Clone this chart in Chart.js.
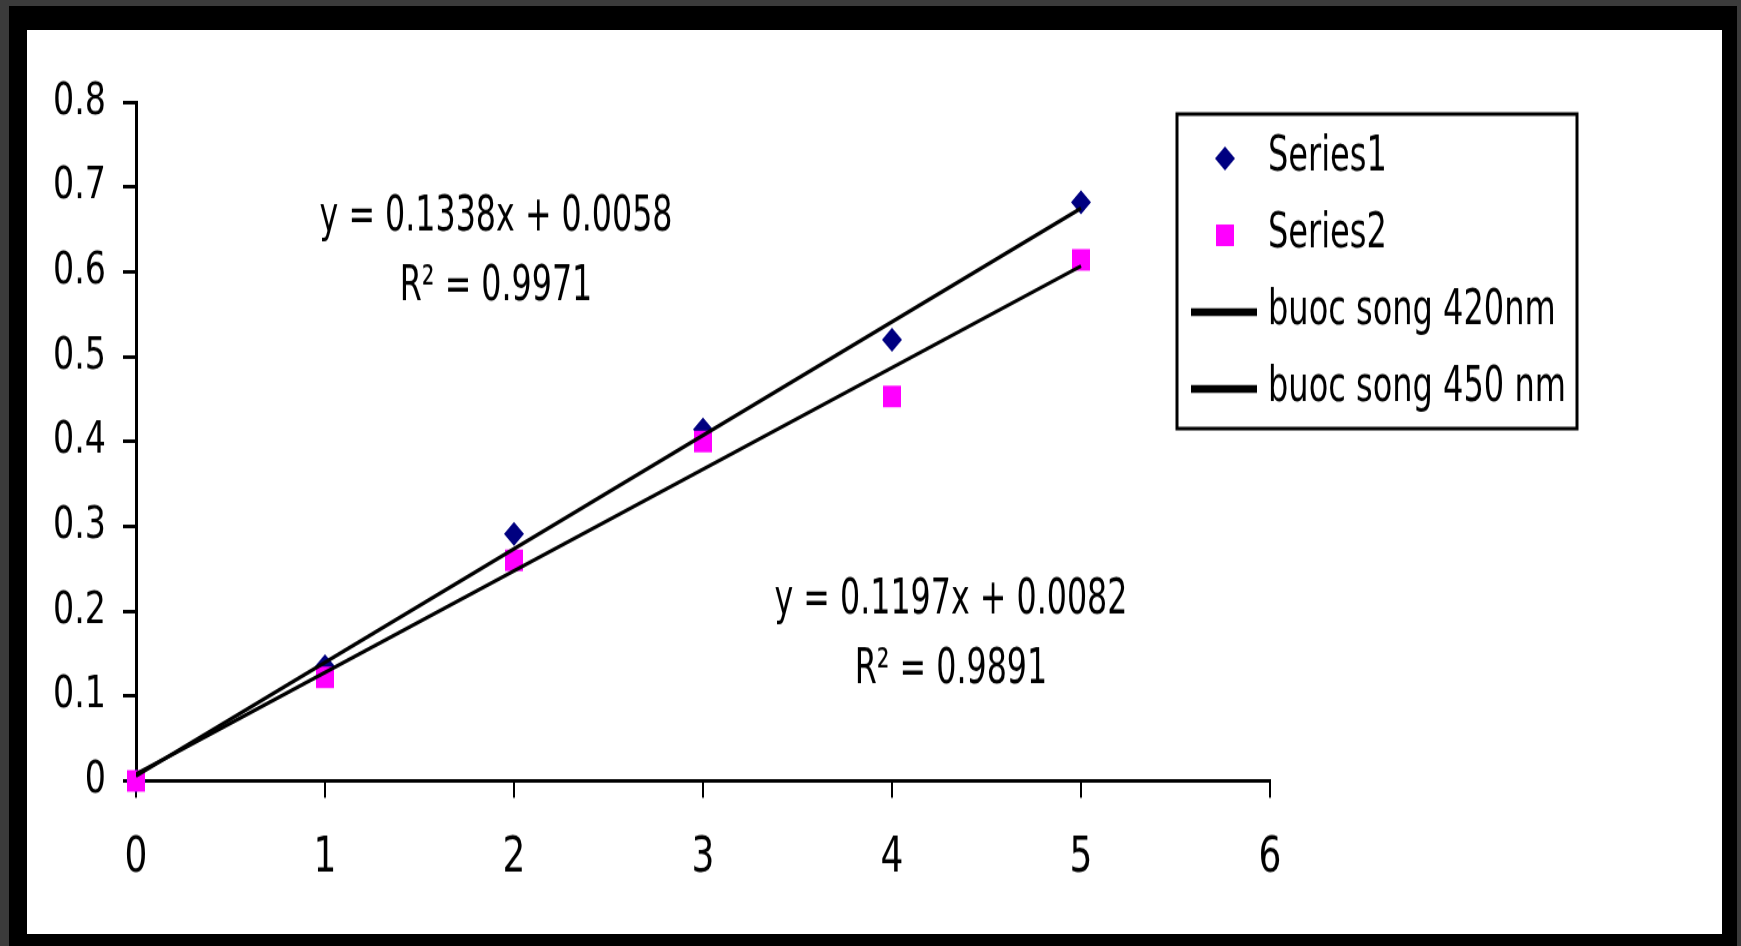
<!DOCTYPE html>
<html>
<head>
<meta charset="utf-8">
<script src="https://cdn.jsdelivr.net/npm/chart.js@4.4.1/dist/chart.umd.min.js"></script>
<style>
html, body { margin: 0; padding: 0; }
body { background: #3b3b3b; width: 1741px; height: 946px; overflow: hidden; position: relative; }
#khung { position: absolute; left: 9px; top: 6px; width: 1728px; height: 940px; background: #000; }
#nen { position: absolute; left: 27px; top: 30px; width: 1695px; height: 904px; background: #fff; overflow: hidden; }
/* hinh goc bi keo gian theo chieu doc */
#bieudo { display: block; transform: scaleY(1.2005); transform-origin: 0 0; }
</style>
</head>
<body>
<div id="khung"></div>
<div id="nen"><canvas id="bieudo" width="1695" height="753"></canvas></div>
<script>
var nongDo = [0, 1, 2, 3, 4, 5];
var series1 = [0, 0.135, 0.291, 0.414, 0.52, 0.682];
var series2 = [0, 0.122, 0.26, 0.40, 0.453, 0.614];

// hai dau cua duong xu huong, doc tu phuong trinh tren hinh
var xXuHuong = [0, 5];
var xuHuong420 = [0.0058, 0.6748];
var xuHuong450 = [0.0082, 0.6067];

var nhanChuGiai = ['Series1', 'Series2', 'buoc song 420nm', 'buoc song 450 nm'];
var phuongTrinh1 = ['y = 0.1338x + 0.0058', 'R\u00b2 = 0.9971'];
var phuongTrinh2 = ['y = 0.1197x + 0.0082', 'R\u00b2 = 0.9891'];

var FONT = '"Liberation Sans Narrow", "Arial Narrow", "DejaVu Sans Condensed", sans-serif';

function taoDiem(xs, ys)
{
    return xs.map(function (x, i) { return { x: x, y: ys[i] }; });
}

// chu hep lai theo chieu ngang cho giong font Arial Narrow
function vietChu(ctx, text, x, y, k)
{
    ctx.save();
    ctx.translate(x, y);
    ctx.scale(k, 1);
    ctx.fillText(text, 0, 0);
    ctx.restore();
}

var veChuGiai =
{
    id: 'veChuGiai',
    afterDraw: function (chart)
    {
        var ctx = chart.ctx;
        ctx.save();

        // khung chu giai
        ctx.strokeStyle = '#000';
        ctx.lineWidth = 3;
        ctx.strokeRect(1150, 70, 400, 262);

        var hang = [107, 171, 235, 299];
        ctx.font = '40px ' + FONT;
        ctx.textBaseline = 'middle';
        ctx.textAlign = 'left';
        chart.data.datasets.forEach(function (ds, i)
        {
            var y = hang[i];
            if (ds.showLine)
            {
                ctx.strokeStyle = ds.borderColor;
                ctx.lineWidth = 6.5;
                ctx.beginPath();
                ctx.moveTo(1164, y);
                ctx.lineTo(1230, y);
                ctx.stroke();
            }
            else
            {
                ctx.fillStyle = ds.backgroundColor;
                Chart.helpers.drawPoint(ctx, { pointStyle: ds.pointStyle, radius: ds.pointRadius, rotation: 0, borderWidth: 0 }, 1198, y);
            }
            ctx.fillStyle = '#000';
            vietChu(ctx, ds.label, 1241, y, 0.89);
        });

        // phuong trinh hoi quy
        var sx = chart.scales.x, sy = chart.scales.y;
        ctx.font = '41px ' + FONT;
        ctx.textAlign = 'center';
        ctx.fillStyle = '#000';
        vietChu(ctx, phuongTrinh1[0], sx.getPixelForValue(1.905), sy.getPixelForValue(0.663), 0.86);
        vietChu(ctx, phuongTrinh1[1], sx.getPixelForValue(1.905), sy.getPixelForValue(0.581), 0.86);
        vietChu(ctx, phuongTrinh2[0], sx.getPixelForValue(4.312), sy.getPixelForValue(0.213), 0.86);
        vietChu(ctx, phuongTrinh2[1], sx.getPixelForValue(4.312), sy.getPixelForValue(0.131), 0.86);

        ctx.restore();
    }
};

Chart.defaults.font.family = FONT;

new Chart(document.getElementById('bieudo').getContext('2d'),
{
    type: 'scatter',
    data: {
        datasets: [
            {
                label: nhanChuGiai[0],
                data: taoDiem(nongDo, series1),
                pointStyle: 'rectRot',
                pointRadius: 10,
                backgroundColor: '#000080',
                borderColor: '#000080',
                borderWidth: 0,
                showLine: false,
                clip: false,
                order: 3
            },
            {
                label: nhanChuGiai[1],
                data: taoDiem(nongDo, series2),
                pointStyle: 'rect',
                pointRadius: 12.7,
                backgroundColor: '#ff00ff',
                borderColor: '#ff00ff',
                borderWidth: 0,
                showLine: false,
                clip: false,
                order: 2
            },
            {
                label: nhanChuGiai[2],
                data: taoDiem(xXuHuong, xuHuong420),
                showLine: true,
                borderColor: '#000',
                borderWidth: 3.2,
                pointRadius: 0,
                order: 1
            },
            {
                label: nhanChuGiai[3],
                data: taoDiem(xXuHuong, xuHuong450),
                showLine: true,
                borderColor: '#000',
                borderWidth: 3.2,
                pointRadius: 0,
                order: 1
            }
        ]
    },
    options: {
        responsive: false,
        animation: false,
        layout: { padding: { top: 60, right: 452, left: 0, bottom: 0 } },
        plugins: {
            legend: { display: false },
            tooltip: { enabled: false }
        },
        scales: {
            x: {
                type: 'linear',
                min: 0,
                max: 6,
                ticks: { stepSize: 1, color: '#000', font: { size: 40 }, padding: 27, maxRotation: 0 },
                grid: { drawOnChartArea: false, color: '#000', lineWidth: 2, tickLength: 14 },
                border: { color: '#000', width: 3 },
                afterFit: function (scale) { scale.height = 127.5; }
            },
            y: {
                min: 0,
                max: 0.8,
                ticks: {
                    stepSize: 0.1,
                    color: '#000',
                    font: { size: 37 },
                    padding: 17,
                    callback: function (v) { return v === 0 ? '0' : v.toFixed(1); }
                },
                grid: { drawOnChartArea: false, color: '#000', lineWidth: 3, tickLength: 13 },
                border: { color: '#000', width: 3 },
                afterFit: function (scale) { scale.width = 109; }
            }
        }
    },
    plugins: [veChuGiai]
});
</script>
</body>
</html>
